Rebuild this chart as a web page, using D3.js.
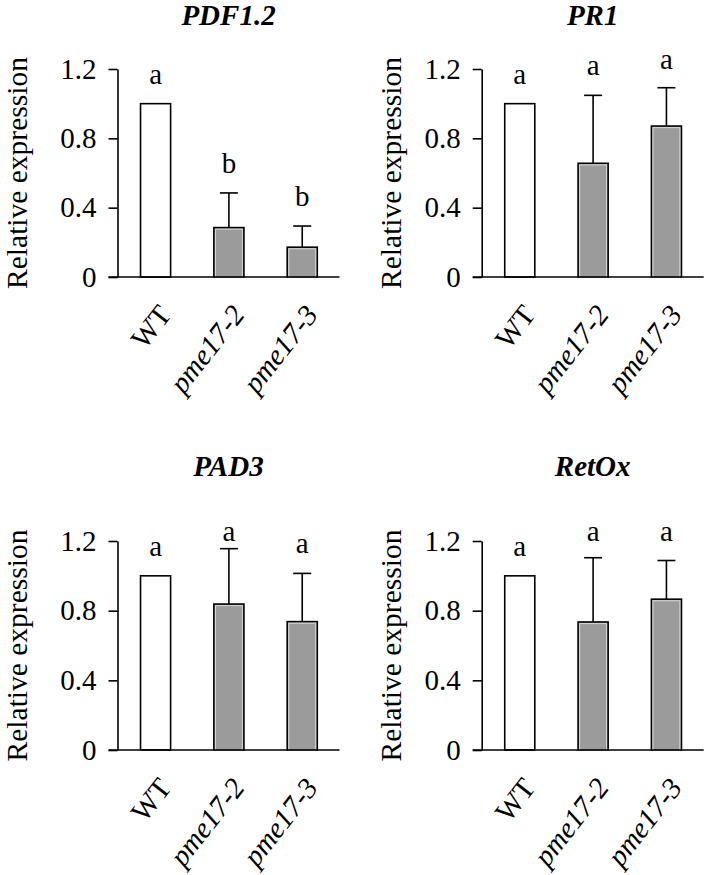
<!DOCTYPE html>
<html>
<head>
<meta charset="utf-8">
<script src="https://cdn.jsdelivr.net/npm/d3@7"></script>
</head>
<body style="margin:0;padding:0;background:#fff">
<div id="chart"></div>
<script>
// ---------------- data ----------------
const categories = ["WT", "pme17-2", "pme17-3"];
const italicCategory = [false, true, true];
const geneTitles = ["PDF1.2", "PR1", "PAD3", "RetOx"];

const pdf12Mean = [1.0, 0.285, 0.172];
const pdf12Err  = [0, 0.200, 0.122];
const pdf12Letters = ["a", "b", "b"];

const pr1Mean = [1.0, 0.656, 0.871];
const pr1Err  = [0, 0.392, 0.221];
const pr1Letters = ["a", "a", "a"];

const pad3Mean = [1.0, 0.838, 0.737];
const pad3Err  = [0, 0.318, 0.277];
const pad3Letters = ["a", "a", "a"];

const retoxMean = [1.0, 0.735, 0.866];
const retoxErr  = [0, 0.369, 0.222];
const retoxLetters = ["a", "a", "a"];

const yTickValues = [0, 0.4, 0.8, 1.2];
const yTickLabels = ["0", "0.4", "0.8", "1.2"];
const yAxisTitle = "Relative expression";
const barFills = ["#ffffff", "#9b9b9b", "#9b9b9b"];

// ---------------- layout ----------------
const W = 709, H = 875;
const FONT = '"Liberation Serif"';
const panels = [
  { title: geneTitles[0], mean: pdf12Mean, err: pdf12Err, letters: pdf12Letters, ax: 117.5, y0: 277, y1: 69, titleY: 25, labX: -101 },
  { title: geneTitles[1], mean: pr1Mean,   err: pr1Err,   letters: pr1Letters,   ax: 481.7, y0: 277, y1: 69, titleY: 25, labX: -91 },
  { title: geneTitles[2], mean: pad3Mean,  err: pad3Err,  letters: pad3Letters,  ax: 117.5, y0: 750, y1: 541, titleY: 476, labX: -101 },
  { title: geneTitles[3], mean: retoxMean, err: retoxErr, letters: retoxLetters, ax: 481.7, y0: 750, y1: 541, titleY: 476, labX: -91 }
];

const svg = d3.select("#chart").append("svg")
  .attr("width", W).attr("height", H)
  .style("display", "block");
svg.append("rect").attr("width", W).attr("height", H).attr("fill", "#fff");

panels.forEach(p => {
  const g = svg.append("g");
  const x = d3.scaleBand().domain(categories)
    .range([p.ax + 1.4, p.ax + 221.4])
    .paddingInner(0.59).paddingOuter(0.295);
  const y = d3.scaleLinear().domain([0, 1.2]).range([p.y0, p.y1]);
  const cx = c => x(c) + x.bandwidth() / 2;

  // title
  g.append("text")
    .attr("x", p.ax + 111).attr("y", p.titleY)
    .attr("text-anchor", "middle")
    .style("font-family", FONT)
    .style("font-size", "29px").style("font-weight", "bold").style("font-style", "italic")
    .attr("fill", "#000")
    .text(p.title);

  // y axis title
  g.append("text")
    .attr("transform", `translate(${p.ax + p.labX},${(p.y0 + p.y1) / 2}) rotate(-90)`)
    .attr("text-anchor", "middle")
    .attr("dy", "0.35em")
    .style("font-family", FONT)
    .style("font-size", "29.5px")
    .attr("fill", "#000")
    .text(yAxisTitle);

  // y axis
  const yAxis = d3.axisLeft(y).tickValues(yTickValues)
    .tickFormat((d, i) => yTickLabels[i])
    .tickSize(9).tickSizeOuter(0).tickPadding(12);
  const ya = g.append("g").attr("transform", `translate(${p.ax},0)`).call(yAxis);
  ya.select(".domain").attr("stroke", "#000").attr("stroke-width", 1.6);
  ya.selectAll(".tick line").attr("stroke", "#000").attr("stroke-width", 1.6);
  ya.selectAll(".tick text")
    .style("font-family", FONT).style("font-size", "29px")
    .attr("fill", "#000");

  // bars
  const data = categories.map((c, i) => ({ c, i, m: p.mean[i], e: p.err[i], l: p.letters[i] }));
  g.selectAll("rect.bar").data(data).enter().append("rect")
    .attr("class", "bar")
    .attr("x", d => x(d.c)).attr("width", x.bandwidth())
    .attr("y", d => y(d.m)).attr("height", d => y(0) - y(d.m))
    .attr("fill", d => barFills[d.i])
    .attr("stroke", "#000").attr("stroke-width", 1.6);
  g.selectAll("rect.inner").data(data.filter(d => d.i > 0)).enter().append("rect")
    .attr("class", "inner")
    .attr("x", d => x(d.c) + 1.6).attr("width", x.bandwidth() - 3.2)
    .attr("y", d => y(d.m) + 1.6).attr("height", d => y(0) - y(d.m) - 1.6)
    .attr("fill", "none")
    .attr("stroke", "#d6d6d6").attr("stroke-width", 1);

  // error bars (upper only)
  const eb = data.filter(d => d.e > 0);
  g.selectAll("line.err").data(eb).enter().append("line")
    .attr("class", "err")
    .attr("x1", d => cx(d.c)).attr("x2", d => cx(d.c))
    .attr("y1", d => y(d.m)).attr("y2", d => y(d.m + d.e))
    .attr("stroke", "#000").attr("stroke-width", 1.6);
  g.selectAll("line.cap").data(eb).enter().append("line")
    .attr("class", "cap")
    .attr("x1", d => cx(d.c) - 9).attr("x2", d => cx(d.c) + 9)
    .attr("y1", d => y(d.m + d.e)).attr("y2", d => y(d.m + d.e))
    .attr("stroke", "#000").attr("stroke-width", 1.6);

  // significance letters
  g.selectAll("text.sig").data(data).enter().append("text")
    .attr("class", "sig")
    .attr("x", d => cx(d.c))
    .attr("y", d => Math.max(y(d.m + d.e) - 20, y(1.2)))
    .attr("text-anchor", "middle")
    .style("font-family", FONT)
    .style("font-size", "29px")
    .attr("fill", "#000")
    .text(d => d.l);

  // x axis line
  g.append("line")
    .attr("x1", p.ax - 9).attr("x2", p.ax + 222)
    .attr("y1", y(0)).attr("y2", y(0))
    .attr("stroke", "#000").attr("stroke-width", 1.6);

  // x labels via axis
  const xAxis = d3.axisBottom(x).tickSize(0).tickSizeOuter(0);
  const xa = g.append("g").attr("transform", `translate(0,${y(0)})`).call(xAxis);
  xa.select(".domain").remove();
  xa.selectAll(".tick text")
    .attr("x", 0).attr("y", 0).attr("dy", 0)
    .attr("text-anchor", "end")
    .attr("transform", "translate(17,38) rotate(-52)")
    .style("font-family", FONT)
    .style("font-size", "29px")
    .style("font-style", (d, i) => italicCategory[i] ? "italic" : "normal")
    .attr("fill", "#000");
});
</script>
</body>
</html>
